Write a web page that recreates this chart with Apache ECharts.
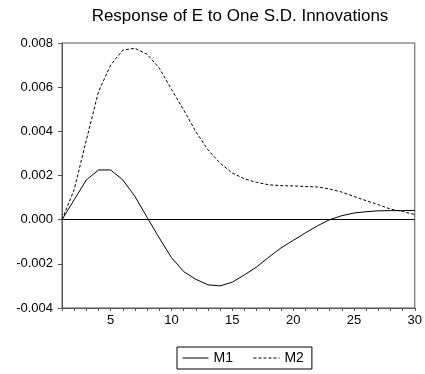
<!DOCTYPE html>
<html>
<head>
<meta charset="utf-8">
<script src="https://cdn.jsdelivr.net/npm/echarts@6/dist/echarts.min.js"></script>
<style>html,body{margin:0;padding:0;background:#fff}#c{width:425px;height:374px}</style>
</head>
<body>
<div id="c"></div>
<script>
var titleText = 'Response of E to One S.D. Innovations';
var periods = [1,2,3,4,5,6,7,8,9,10,11,12,13,14,15,16,17,18,19,20,21,22,23,24,25,26,27,28,29,30];
var m1 = [0, 0.0009, 0.0018, 0.00225, 0.00225, 0.0018, 0.00105, 0.0001, -0.00083, -0.00172,
  -0.00235, -0.0027, -0.00295, -0.003, -0.00283, -0.0025, -0.00214, -0.0017, -0.00128, -0.00094,
  -0.0006, -0.00028, 0.0, 0.00018, 0.0003, 0.00036, 0.0004, 0.00041, 0.00041, 0.00042];
var m2 = [0, 0.00136, 0.0036, 0.0058, 0.0070, 0.00768, 0.00776, 0.00749, 0.00686, 0.0059,
  0.00497, 0.00399, 0.00316, 0.00256, 0.00211, 0.00185, 0.00169, 0.00158, 0.00154, 0.00153,
  0.0015, 0.00148, 0.00139, 0.00125, 0.00105, 0.00086, 0.00068, 0.00048, 0.00037, 0.00023];
var seriesNames = ['M1', 'M2'];
var xLabelValues = [5, 10, 15, 20, 25, 30];

function pairs(vals){ return periods.map(function(t,i){ return [t, vals[i]]; }); }

var font = 'Liberation Sans, Arial, sans-serif';
var chart = echarts.init(document.getElementById('c'), null, {renderer:'canvas'});
chart.setOption({
  animation: false,
  title: {
    text: titleText, left: 235, top: 3, textAlign: 'center',
    textStyle: {fontFamily: font, fontSize: 17, fontWeight: 'normal', color: '#000'}
  },
  grid: {left: 62, right: 8, top: 43, bottom: 66, show: true, borderColor: '#555', borderWidth: 1, backgroundColor: 'transparent'},
  legend: {
    data: seriesNames, left: 177, top: 347, orient: 'horizontal',
    itemWidth: 26, itemHeight: 10, itemGap: 20,
    padding: [4, 8, 4, 5],
    borderColor: '#000', borderWidth: 1,
    itemStyle: {opacity: 0},
    lineStyle: {width: 1},
    textStyle: {fontFamily: font, fontSize: 14, color: '#000'}
  },
  xAxis: {
    type: 'value', min: 1, max: 30, interval: 1,
    axisLine: {show: true, onZero: false, lineStyle: {color: '#555', width: 1}},
    axisTick: {show: true, inside: false, length: 3, lineStyle: {color: '#555'}},
    axisLabel: {
      fontFamily: font, fontSize: 13, color: '#000', margin: 6,
      formatter: function(v){ return xLabelValues.indexOf(v) >= 0 ? String(v) : ''; }
    },
    splitLine: {show: false}
  },
  yAxis: {
    type: 'value', min: -0.004, max: 0.008, interval: 0.002,
    axisLine: {show: true, lineStyle: {color: '#555', width: 1}},
    axisTick: {show: true, inside: false, length: 4, lineStyle: {color: '#555'}},
    axisLabel: {
      fontFamily: font, fontSize: 13, color: '#000', margin: 9,
      formatter: function(v){ return v.toFixed(3); }
    },
    splitLine: {show: false}
  },
  series: [
    {
      name: seriesNames[0], type: 'line', data: pairs(m1), symbol: 'none',
      lineStyle: {color: '#000', width: 1, type: 'solid'}, itemStyle: {color: '#000'},
      markLine: {
        silent: true, symbol: 'none', label: {show: false},
        lineStyle: {color: '#000', width: 1, type: 'solid'},
        data: [{yAxis: 0}]
      }
    },
    {
      name: seriesNames[1], type: 'line', data: pairs(m2), symbol: 'none',
      lineStyle: {color: '#000', width: 1, type: [3, 2]}, itemStyle: {color: '#000'}
    }
  ]
});
</script>
</body>
</html>
